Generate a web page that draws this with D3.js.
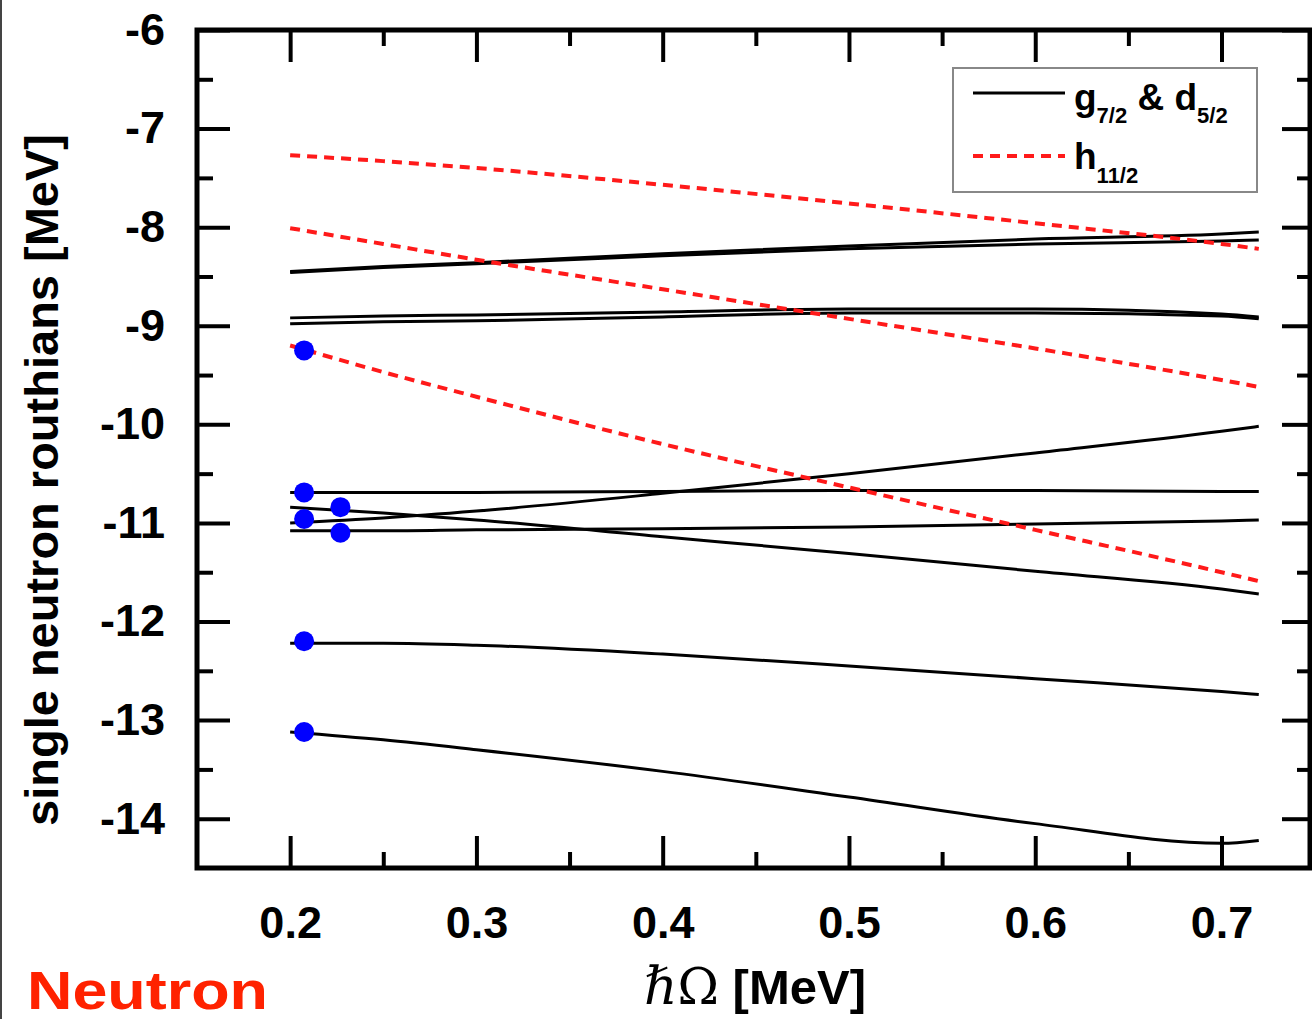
<!DOCTYPE html>
<html>
<head>
<meta charset="utf-8">
<script src="https://cdn.jsdelivr.net/npm/d3@7"></script>
<style>
  body { margin: 0; background: #fff; }
  svg { display: block; }
  text { font-family: "Liberation Sans", Arial, sans-serif; font-weight: bold; fill: #000; }
</style>
</head>
<body>
<div id="chart"></div>
<script>
// rotational frequency grid (MeV)
var omega = [0.2, 0.25, 0.3, 0.4, 0.5, 0.6, 0.7, 0.72];

// g7/2 & d5/2 routhians (solid black)
var gdLevels = [
  [-8.45, -8.40, -8.36, -8.27, -8.19, -8.12, -8.07, -8.05],
  [-8.46, -8.41, -8.37, -8.29, -8.22, -8.17, -8.14, -8.13],
  [-8.92, -8.90, -8.89, -8.86, -8.83, -8.83, -8.88, -8.91],
  [-8.98, -8.96, -8.95, -8.91, -8.87, -8.87, -8.90, -8.93],
  [-10.69, -10.69, -10.69, -10.68, -10.67, -10.67, -10.68, -10.68],
  [-10.84, -10.90, -10.97, -11.14, -11.31, -11.49, -11.67, -11.72],
  [-11.00, -10.95, -10.88, -10.70, -10.50, -10.29, -10.07, -10.02],
  [-11.08, -11.08, -11.07, -11.06, -11.04, -11.01, -10.98, -10.97],
  [-12.22, -12.22, -12.24, -12.33, -12.45, -12.58, -12.71, -12.74],
  [-13.12, -13.20, -13.30, -13.52, -13.78, -14.05, -14.25, -14.22]
];

// h11/2 routhians (red dashed)
var hLevels = [
  [-7.27, -7.33, -7.40, -7.57, -7.76, -7.96, -8.17, -8.22],
  [-8.01, -8.17, -8.33, -8.63, -8.93, -9.23, -9.55, -9.62],
  [-9.20, -9.47, -9.72, -10.20, -10.64, -11.07, -11.50, -11.59]
];

// blue markers
var dotX = [0.2075, 0.2075, 0.2075, 0.227, 0.227, 0.2075, 0.2075];
var dotY = [-9.25, -10.69, -10.96, -10.84, -11.10, -12.20, -13.12];

var xTicks = [0.2, 0.3, 0.4, 0.5, 0.6, 0.7];
var xMinor = [0.25, 0.35, 0.45, 0.55, 0.65];
var yTicks = [-6, -7, -8, -9, -10, -11, -12, -13, -14];
var yMinor = [-6.5, -7.5, -8.5, -9.5, -10.5, -11.5, -12.5, -13.5];

var W = 1312, H = 1019;
var plotL = 197, plotR = 1310, plotT = 30, plotB = 868;

var svg = d3.select("#chart").append("svg").attr("width", W).attr("height", H);

// thin border on the left edge of the picture
svg.append("line").attr("x1", 1).attr("x2", 1).attr("y1", 0).attr("y2", H)
    .attr("stroke", "#444").attr("stroke-width", 2);

var x = d3.scaleLinear().domain([0.15, 0.7475]).range([plotL, plotR]);
var y = d3.scaleLinear().domain([-14.5, -6]).range([plotB, plotT]);

var line = d3.line()
    .x(function(d, i) { return x(omega[i]); })
    .y(function(d) { return y(d); })
    .curve(d3.curveMonotoneX);

svg.append("g").selectAll("path").data(gdLevels).enter().append("path")
    .attr("d", line).attr("fill", "none")
    .attr("stroke", "#000").attr("stroke-width", 3);

svg.append("g").selectAll("path").data(hLevels).enter().append("path")
    .attr("d", line).attr("fill", "none")
    .attr("stroke", "#ff1a1a").attr("stroke-width", 4)
    .attr("stroke-dasharray", "10,7");

svg.append("g").selectAll("circle").data(dotX).enter().append("circle")
    .attr("cx", function(d) { return x(d); })
    .attr("cy", function(d, i) { return y(dotY[i]); })
    .attr("r", 10).attr("fill", "#0000ff");

// axes with inward ticks on all four sides
function styleAxis(g) {
  g.select(".domain").remove();
  g.selectAll(".tick line").attr("stroke", "#000").attr("stroke-width", 4);
  g.selectAll(".tick text").style("font-size", "45px").style("font-family", "Liberation Sans, Arial, sans-serif").style("font-weight", "bold");
}
var fmt = function(d) { return String(d); };

svg.append("g").attr("transform", "translate(0," + plotB + ")")
    .call(d3.axisBottom(x).tickValues(xTicks).tickSize(-32).tickPadding(38).tickFormat(d3.format(".1f")))
    .call(styleAxis);
svg.append("g").attr("transform", "translate(0," + plotB + ")")
    .call(d3.axisBottom(x).tickValues(xMinor).tickSize(-16).tickFormat(""))
    .call(styleAxis);
svg.append("g").attr("transform", "translate(0," + plotT + ")")
    .call(d3.axisTop(x).tickValues(xTicks).tickSize(-32).tickFormat(""))
    .call(styleAxis);
svg.append("g").attr("transform", "translate(0," + plotT + ")")
    .call(d3.axisTop(x).tickValues(xMinor).tickSize(-16).tickFormat(""))
    .call(styleAxis);

svg.append("g").attr("transform", "translate(" + plotL + ",0)")
    .call(d3.axisLeft(y).tickValues(yTicks).tickSize(-33).tickPadding(32).tickFormat(fmt))
    .call(styleAxis);
svg.append("g").attr("transform", "translate(" + plotL + ",0)")
    .call(d3.axisLeft(y).tickValues(yMinor).tickSize(-16).tickFormat(""))
    .call(styleAxis);
svg.append("g").attr("transform", "translate(" + plotR + ",0)")
    .call(d3.axisRight(y).tickValues(yTicks).tickSize(-28).tickFormat(""))
    .call(styleAxis);
svg.append("g").attr("transform", "translate(" + plotR + ",0)")
    .call(d3.axisRight(y).tickValues(yMinor).tickSize(-13).tickFormat(""))
    .call(styleAxis);

// frame
svg.append("rect").attr("x", plotL).attr("y", plotT)
    .attr("width", plotR - plotL).attr("height", plotB - plotT)
    .attr("fill", "none").attr("stroke", "#000").attr("stroke-width", 5);

// legend
var legend = svg.append("g");
legend.append("rect").attr("x", 953).attr("y", 68).attr("width", 304).attr("height", 124)
    .attr("fill", "#fff").attr("stroke", "#888").attr("stroke-width", 2);
legend.append("line").attr("x1", 973).attr("x2", 1065).attr("y1", 93).attr("y2", 93)
    .attr("stroke", "#000").attr("stroke-width", 3);
legend.append("line").attr("x1", 973).attr("x2", 1065).attr("y1", 156).attr("y2", 156)
    .attr("stroke", "#ff1a1a").attr("stroke-width", 4).attr("stroke-dasharray", "10,7");

var t1 = legend.append("text").attr("x", 1074).attr("y", 110).style("font-size", "37px");
t1.append("tspan").text("g");
t1.append("tspan").attr("dy", 13).style("font-size", "22px").text("7/2");
t1.append("tspan").attr("dy", -13).text(" & d");
t1.append("tspan").attr("dy", 13).style("font-size", "22px").text("5/2");

var t2 = legend.append("text").attr("x", 1074).attr("y", 169).style("font-size", "37px");
t2.append("tspan").text("h");
t2.append("tspan").attr("dy", 14).style("font-size", "22px").text("11/2");

// axis titles
var xt = svg.append("text").attr("x", 755).attr("y", 1004).attr("text-anchor", "middle");
xt.append("tspan").style("font-family", "DejaVu Serif, serif").style("font-weight", "normal")
    .style("font-style", "italic").style("font-size", "52px").text("\u210F");
xt.append("tspan").style("font-family", "DejaVu Serif, serif").style("font-weight", "normal")
    .style("font-size", "50px").text("\u03A9");
xt.append("tspan").style("font-size", "49px").text(" [MeV]");

svg.append("text").attr("transform", "translate(58,480) rotate(-90)")
    .attr("text-anchor", "middle").style("font-size", "47px")
    .text("single neutron routhians [MeV]");

svg.append("text").attr("x", 27).attr("y", 1009)
    .attr("textLength", 241).attr("lengthAdjust", "spacingAndGlyphs")
    .style("font-size", "54px").style("fill", "#ff2200")
    .text("Neutron");
</script>
</body>
</html>
